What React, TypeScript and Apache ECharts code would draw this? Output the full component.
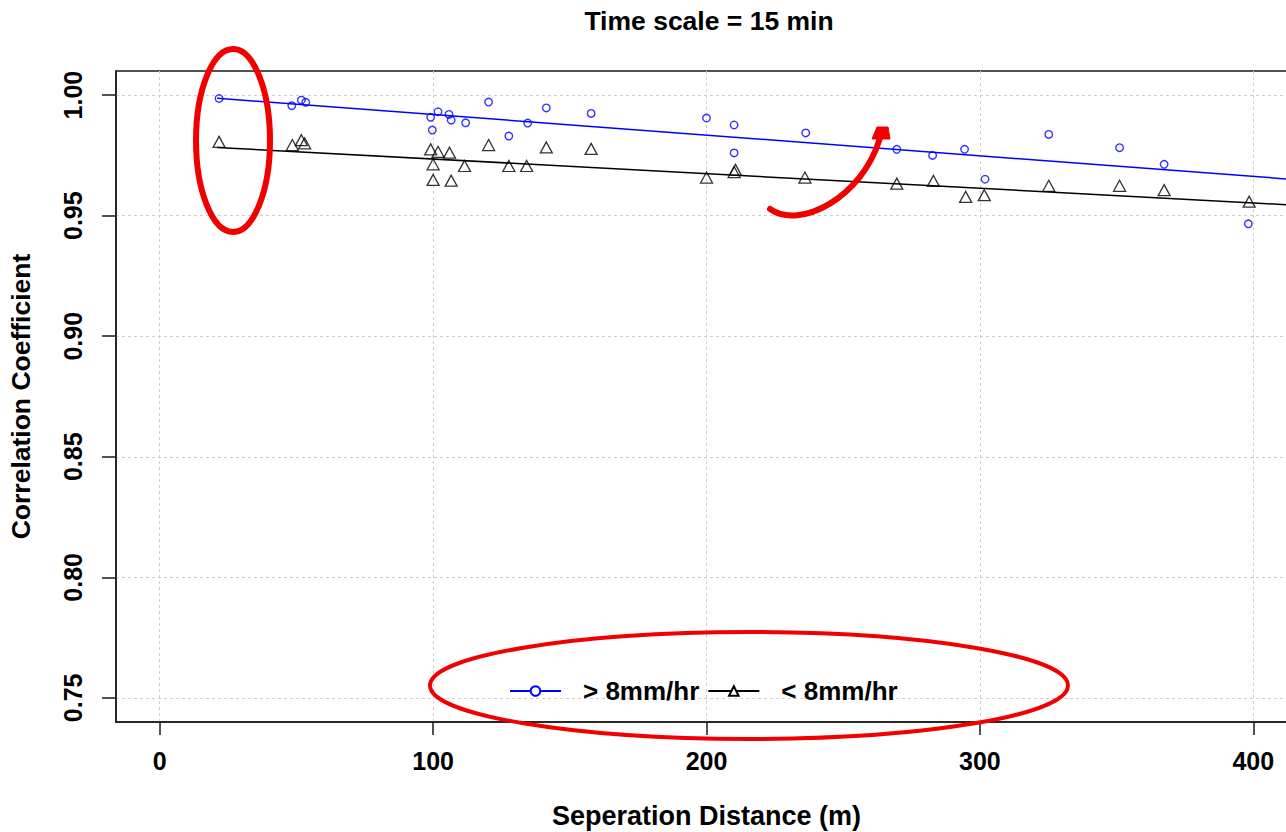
import React, { useEffect, useRef } from "react";
import * as echarts from "echarts";

const FONT = '"Liberation Sans", Arial, Helvetica, sans-serif';

const TITLE = "Time scale = 15 min";
const X_NAME = "Seperation Distance (m)";
const Y_NAME = "Correlation Coefficient";
const SERIES_HIGH = "> 8mm/hr";
const SERIES_LOW = "< 8mm/hr";

const X_TICKS = [0, 100, 200, 300, 400];
const Y_TICKS = [0.75, 0.8, 0.85, 0.9, 0.95, 1.0];

// > 8mm/hr (blue circles)
const highX = [21.7, 48.3, 51.8, 53.4, 99.1, 101.8, 99.7, 105.8, 106.6, 111.9, 120.3, 127.7, 134.6, 141.4, 157.8, 200, 210.1, 210.1, 236.3, 269.6, 282.7, 294.4, 301.9, 325.2, 351.1, 367.4, 398.2];
const highY = [0.9986, 0.9956, 0.9979, 0.997, 0.9908, 0.9931, 0.9855, 0.992, 0.9896, 0.9885, 0.9971, 0.983, 0.9884, 0.9947, 0.9924, 0.9905, 0.9876, 0.976, 0.9843, 0.9775, 0.975, 0.9775, 0.9651, 0.9837, 0.9782, 0.9713, 0.9466];

// < 8mm/hr (black triangles)
const lowX = [21.7, 48.5, 51.8, 53, 99.1, 101.8, 100, 100, 106, 106.6, 111.5, 120.3, 127.7, 134.2, 141.4, 157.8, 200, 210.1, 210.6, 236, 269.6, 283, 294.8, 301.6, 325.2, 351.1, 367.4, 398.5];
const lowY = [0.9806, 0.9793, 0.9813, 0.98, 0.9775, 0.9765, 0.9713, 0.9648, 0.9761, 0.9645, 0.9706, 0.9793, 0.9706, 0.9706, 0.9783, 0.9777, 0.9658, 0.9681, 0.969, 0.9658, 0.9633, 0.9644, 0.9578, 0.9585, 0.9624, 0.9624, 0.9606, 0.9558];

// fitted trend lines
const fitX = [21, 416];
const highFit = [0.9987, 0.9649];
const lowFit = [0.9783, 0.9543];

const zip = (xs: number[], ys: number[]) => xs.map((x, i) => [x, ys[i]]);

export default function App() {
  const ref = useRef<HTMLDivElement>(null);

  useEffect(() => {
    if (!ref.current) return;
    const chart = echarts.init(ref.current, null, { renderer: "svg" });
    const axisColor = "#1a1a1a";
    const splitLine = { show: true, lineStyle: { color: "#cfcfcf", type: [3, 3], width: 1 } };
    const labelStyle = { fontSize: 25, fontWeight: "bold", color: "#000", fontFamily: FONT };
    const nameStyle = { fontSize: 26, fontWeight: "bold", color: "#000", fontFamily: FONT };

    chart.setOption({
      animation: false,
      backgroundColor: "#ffffff",
      title: {
        text: TITLE,
        left: 704,
        top: 2,
        textAlign: "center",
        textStyle: { ...nameStyle, fontSize: 26.5 },
      },
      grid: {
        left: 116,
        top: 71,
        width: 1181,
        height: 651,
        outerBoundsMode: "none",
        containLabel: false,
        show: true,
        borderColor: axisColor,
        borderWidth: 1.5,
        backgroundColor: "transparent",
      },
      legend: {
        left: 509,
        top: 678,
        padding: 0,
        itemWidth: 51,
        itemHeight: 12,
        itemGap: 8,
        selectedMode: false,
        data: [SERIES_HIGH, SERIES_LOW],
        textStyle: { ...nameStyle, padding: [0, 0, 0, 17] },
      },
      xAxis: {
        type: "value",
        min: -16,
        max: 416,
        name: X_NAME,
        nameLocation: "middle",
        nameGap: 80,
        nameTextStyle: { ...nameStyle, fontSize: 27 },
        axisLine: { show: true, onZero: false, lineStyle: { color: axisColor, width: 1.5 } },
        axisTick: { show: true, length: 13, customValues: X_TICKS, lineStyle: { color: axisColor, width: 1.5 } },
        axisLabel: { ...labelStyle, margin: 26, customValues: X_TICKS },
        splitLine,
      },
      yAxis: {
        type: "value",
        min: 0.74,
        max: 1.01,
        name: Y_NAME,
        nameLocation: "middle",
        nameGap: 82,
        nameTextStyle: { ...nameStyle, fontSize: 26.5 },
        axisLine: { show: true, onZero: false, lineStyle: { color: axisColor, width: 1.5 } },
        axisTick: { show: true, length: 14, customValues: Y_TICKS, lineStyle: { color: axisColor, width: 1.5 } },
        axisLabel: {
          ...labelStyle,
          margin: 31,
          rotate: 90,
          customValues: Y_TICKS,
          formatter: (v: number) => v.toFixed(2),
        },
        splitLine,
      },
      series: [
        {
          name: SERIES_HIGH,
          type: "line",
          data: zip(fitX, highFit),
          symbol: "emptyCircle",
          showSymbol: false,
          lineStyle: { color: "#0000ff", width: 1.5 },
          itemStyle: { color: "#0000ff" },
          z: 3,
        },
        {
          name: SERIES_LOW,
          type: "line",
          data: zip(fitX, lowFit),
          symbol: "emptyTriangle",
          showSymbol: false,
          lineStyle: { color: "#000000", width: 1.5 },
          itemStyle: { color: "#000000" },
          z: 3,
        },
        {
          name: SERIES_HIGH,
          type: "scatter",
          data: zip(highX, highY),
          symbol: "circle",
          symbolSize: 7.5,
          itemStyle: { color: "transparent", borderColor: "#0000ff", borderWidth: 1.4 },
          z: 4,
        },
        {
          name: SERIES_LOW,
          type: "scatter",
          data: zip(lowX, lowY),
          symbol: "triangle",
          symbolSize: [12, 11],
          itemStyle: { color: "transparent", borderColor: "#000000", borderWidth: 1.3 },
          z: 4,
        },
      ],
      graphic: [
        {
          type: "ellipse",
          shape: { cx: 233, cy: 140.5, rx: 37, ry: 91.5 },
          style: { fill: "none", stroke: "#f20000", lineWidth: 6 },
          z: 100,
        },
        {
          type: "ellipse",
          shape: { cx: 749, cy: 685.5, rx: 319, ry: 53.5 },
          style: { fill: "none", stroke: "#f20000", lineWidth: 4 },
          z: 100,
        },
        {
          type: "bezierCurve",
          shape: { x1: 770, y1: 209, cpx1: 800, cpy1: 230, cpx2: 862, cpy2: 198, x2: 880, y2: 138 },
          style: { fill: "none", stroke: "#f20000", lineWidth: 6, lineCap: "round" },
          z: 100,
        },
        {
          type: "polygon",
          shape: { points: [[872, 139], [890, 139], [888, 127], [877, 127]] },
          style: { fill: "#f20000", stroke: "#f20000", lineWidth: 1 },
          z: 100,
        },
      ],
    });
    return () => chart.dispose();
  }, []);

  return (
    <div style={{ position: "absolute", left: 0, top: 0, width: 1286, height: 832, overflow: "hidden" }}>
      <div ref={ref} style={{ position: "absolute", left: 0, top: 0, width: 1320, height: 832 }} />
    </div>
  );
}
